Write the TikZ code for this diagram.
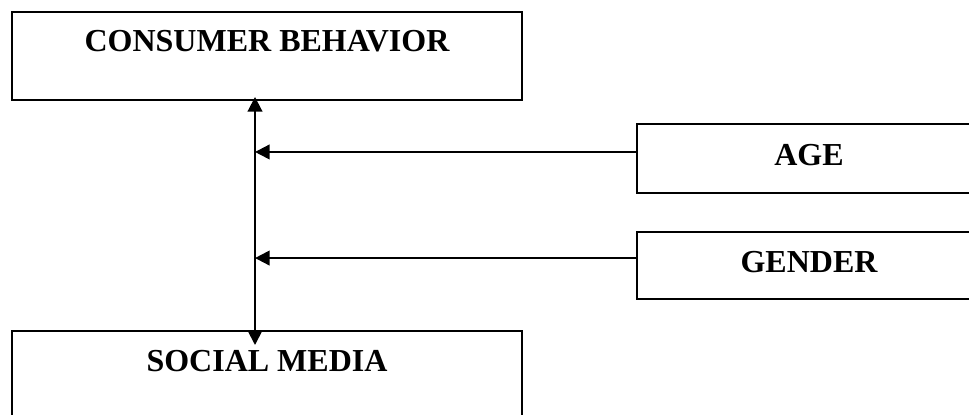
\documentclass[tikz,border=0pt]{standalone}
\usepackage{fontspec}
\setmainfont{Liberation Serif}
\usetikzlibrary{arrows.meta}
\begin{document}
\begin{tikzpicture}[x=0.75pt,y=-0.75pt,
  box/.style={draw=black,line width=1.5pt,inner xsep=0pt,inner ysep=0pt,anchor=base,
    font=\fontsize{24pt}{28pt}\selectfont\bfseries},
  conn/.style={line width=1.5pt,black},
  >={Triangle[length=11pt,width=11pt]}]
\useasboundingbox (0,0) rectangle (969,414);
\clip (0,0) rectangle (969,414);
\node[box,minimum width=382.5pt,text height=29.8pt,text depth=36.2pt] (cb) at (267,51.7) {CONSUMER BEHAVIOR};
\node[box,minimum width=382.5pt,text height=30pt,text depth=60pt] (sm) at (267,371) {SOCIAL MEDIA};
\node[box,minimum width=258pt,text height=30.75pt,text depth=21pt] (age) at (809,165) {AGE};
\node[box,minimum width=258pt,text height=30pt,text depth=20.25pt] (gen) at (809,272) {GENDER};
\coordinate (vt) at ([xshift=-9pt,yshift=3pt]cb.south);
\coordinate (vb) at ([xshift=-9pt,yshift=-11.25pt]sm.north);
\draw[conn,<->] (vt) -- (vb);
\draw[conn,->] ([yshift=4.9pt]age.west) -- ([yshift=4.9pt]age.west -| vt);
\draw[conn,->] ([yshift=5.6pt]gen.west) -- ([yshift=5.6pt]gen.west -| vt);
\end{tikzpicture}
\end{document}
